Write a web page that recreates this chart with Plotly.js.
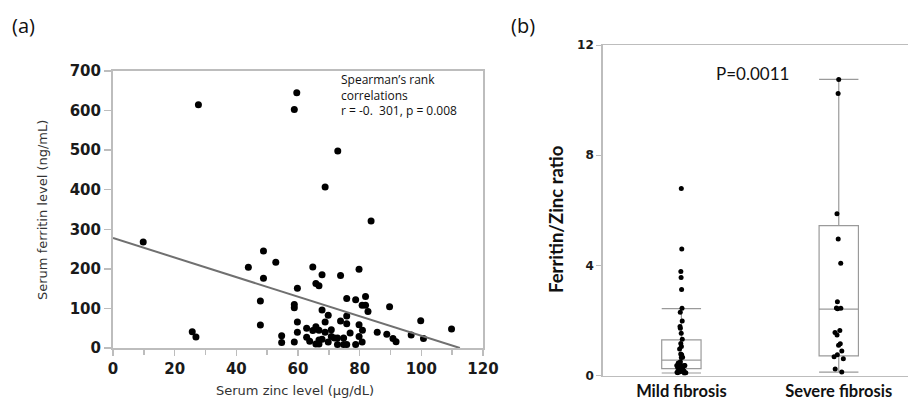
<!DOCTYPE html>
<html>
<head>
<meta charset="utf-8">
<script src="https://cdn.plot.ly/plotly-3.0.1.min.js"></script>
<style>html,body{margin:0;padding:0;background:#fff;}#chart{width:911px;height:403px;}</style>
</head>
<body>
<div id="chart"></div>
<script>
// Panel (a): serum zinc (µg/dL) vs serum ferritin (ng/mL)
const zinc = [9.8,25.7,26.9,27.7,59.6,58.8,43.9,48.8,52.8,48.8,47.8,47.8,54.7,54.7,58.8,59.8,58.8,58.8,59.8,59.8,
  83.7,64.8,67.8,65.8,66.8,73.8,79.8,75.8,78.7,81.9,80.8,81.9,82.7,89.7,67.8,69.8,75.8,68.8,73.8,75.8,
  79.8,99.8,109.8,62.8,65.8,64.8,66.8,68.8,70.8,76.9,80.9,85.7,88.8,90.8,91.8,96.7,100.7,62.8,63.8,67.8,
  66.8,65.8,66.8,69.8,70.8,71.8,72.8,74.8,72.8,74.8,75.8,78.7,79.8,80.8,72.9,68.8];
const ferritin = [268,41,28,615,645,603,204,245,217,176,119,58,31,14,15,151,110,102,66,40,
  321,205,185,163,157,183,199,125,122,130,108,108,92,104,96,83,81,66,68,61,
  59,69,48,50,54,44,45,40,46,38,45,40,35,24,16,33,24,27,17,22,
  20,10,10,15,29,25,25,25,9,9,9,9,29,15,498,407];
// regression line endpoints
const fitZinc = [0, 112.5];
const fitFerritin = [278, 0];
const spearmanLines = ['Spearman\u2019s rank', 'correlations', 'r = -0.  301, p = 0.008'];

// Panel (b): Ferritin/Zinc ratio by fibrosis group
const groups = ["Mild fibrosis", "Severe fibrosis"];
const mildRatio = [6.79,4.59,3.78,3.56,3.12,2.44,2.30,1.98,1.78,1.72,1.53,1.32,1.16,1.05,0.96,0.78,0.75,0.66,0.65,
  0.50,0.45,0.40,0.36,0.36,0.36,0.36,0.36,0.30,0.28,0.25,0.20,0.18,0.16,0.14,0.12,0.10,0.10,0.08];
const severeRatio = [10.75,10.24,5.87,4.96,4.08,2.68,2.44,2.42,2.45,1.63,1.56,1.47,1.15,1.10,0.89,0.75,0.68,0.61,0.24,0.13];
const boxQ1 = [0.25, 0.71];
const boxMedian = [0.56, 2.41];
const boxQ3 = [1.29, 5.44];
const boxLow = [0.09, 0.12];
const boxHigh = [2.43, 10.75];

const W = 911, H = 403;
const px = v => v / W, py = v => 1 - v / H;
const axisGray = '#bdbdbd';
const tickFontA = {family: 'DejaVu Sans', size: 15, weight: 'bold', color: '#1a1a1a'};

const traces = [
  {type: 'scatter', mode: 'markers', x: zinc, y: ferritin, xaxis: 'x', yaxis: 'y',
   marker: {color: '#000', size: 7}, hoverinfo: 'x+y'},
  {type: 'scatter', mode: 'lines', x: fitZinc, y: fitFerritin, xaxis: 'x', yaxis: 'y',
   line: {color: '#707070', width: 2}},
  {type: 'box', x: groups, q1: boxQ1, median: boxMedian, q3: boxQ3, lowerfence: boxLow, upperfence: boxHigh,
   xaxis: 'x2', yaxis: 'y2', boxpoints: false, width: 0.25, whiskerwidth: 1,
   line: {color: '#9a9a9a', width: 1.2}, fillcolor: 'rgba(0,0,0,0)'},
  {type: 'box', x: mildRatio.map(() => groups[0]), y: mildRatio, xaxis: 'x2', yaxis: 'y2',
   boxpoints: 'all', jitter: 0.3, pointpos: 0, width: 0.25,
   line: {color: 'rgba(0,0,0,0)', width: 0}, fillcolor: 'rgba(0,0,0,0)', marker: {color: '#000', size: 5}},
  {type: 'box', x: severeRatio.map(() => groups[1]), y: severeRatio, xaxis: 'x2', yaxis: 'y2',
   boxpoints: 'all', jitter: 0.3, pointpos: 0, width: 0.25,
   line: {color: 'rgba(0,0,0,0)', width: 0}, fillcolor: 'rgba(0,0,0,0)', marker: {color: '#000', size: 5}}
];

const layout = {
  width: W, height: H, showlegend: false,
  margin: {l: 0, r: 0, t: 0, b: 0},
  paper_bgcolor: '#fff', plot_bgcolor: '#fff',
  boxmode: 'overlay',
  xaxis: {domain: [px(113), px(483)], range: [0, 120], tickvals: [0,20,40,60,80,100,120],
    showgrid: false, zeroline: false, showline: true, linecolor: axisGray, linewidth: 2, mirror: true,
    ticks: 'outside', ticklen: 6, tickcolor: axisGray, tickwidth: 1.5,
    minor: {ticks: 'outside', dtick: 10, ticklen: 5, tickcolor: axisGray},
    tickfont: tickFontA, anchor: 'y'},
  yaxis: {domain: [py(348), py(71)], range: [0, 700], dtick: 100,
    showgrid: false, zeroline: false, showline: true, linecolor: axisGray, linewidth: 2, mirror: true,
    ticks: 'outside', ticklen: 7, tickcolor: axisGray, tickwidth: 1.5,
    tickfont: tickFontA, anchor: 'x'},
  xaxis2: {domain: [px(602.7), px(908)], range: [-0.5, 1.44], type: 'category',
    showgrid: false, zeroline: false, showline: true, linecolor: axisGray, linewidth: 1.5, mirror: true,
    ticks: '', tickfont: {family: 'Lato', size: 16.5, weight: 'bold', color: '#111'}, anchor: 'y2'},
  yaxis2: {domain: [py(375.5), py(45)], range: [0, 12], tickvals: [0,4,8,12],
    showgrid: false, zeroline: false, showline: true, linecolor: axisGray, linewidth: 1.5,
    ticks: 'outside', ticklen: 5, tickcolor: axisGray, tickwidth: 1,
    tickfont: {family: 'DejaVu Sans', size: 12, weight: 'bold', color: '#1a1a1a'}, anchor: 'x2'},
  annotations: [
    {text: spearmanLines.join('<br>'), xref: 'paper', yref: 'paper', x: px(339), y: py(94.5),
     xanchor: 'left', yanchor: 'middle', align: 'left',
     showarrow: false, font: {family: 'Open Sans', size: 12, color: '#111'}},
    {text: '(a)', xref: 'paper', yref: 'paper', x: px(10), y: py(25), xanchor: 'left', yanchor: 'middle',
     showarrow: false, font: {family: 'Open Sans', size: 20, color: '#111'}},
    {text: '(b)', xref: 'paper', yref: 'paper', x: px(509), y: py(25), xanchor: 'left', yanchor: 'middle',
     showarrow: false, font: {family: 'Open Sans', size: 20, color: '#111'}},
    {text: 'Serum ferritin level (ng/mL)', xref: 'paper', yref: 'paper', x: px(42), y: py(210), textangle: -90,
     xanchor: 'center', yanchor: 'middle', showarrow: false, font: {family: 'DejaVu Sans', size: 13, color: '#333'}},
    {text: 'Serum zinc level (\u03bcg/dL)', xref: 'paper', yref: 'paper', x: px(295), y: py(390),
     xanchor: 'center', yanchor: 'middle', showarrow: false, font: {family: 'DejaVu Sans', size: 13, color: '#333'}},
    {text: 'P=0.0011', xref: 'paper', yref: 'paper', x: px(752), y: py(73),
     xanchor: 'center', yanchor: 'middle', showarrow: false, font: {family: 'Lato', size: 17, color: '#111'}},
    {text: 'Ferritin/Zinc ratio', xref: 'paper', yref: 'paper', x: px(556), y: py(219), textangle: -90,
     xanchor: 'center', yanchor: 'middle', showarrow: false, font: {family: 'Lato', size: 18.5, weight: 'bold', color: '#111'}}
  ]
};

Plotly.newPlot('chart', traces, layout, {displayModeBar: false, staticPlot: true});
</script>
</body>
</html>
